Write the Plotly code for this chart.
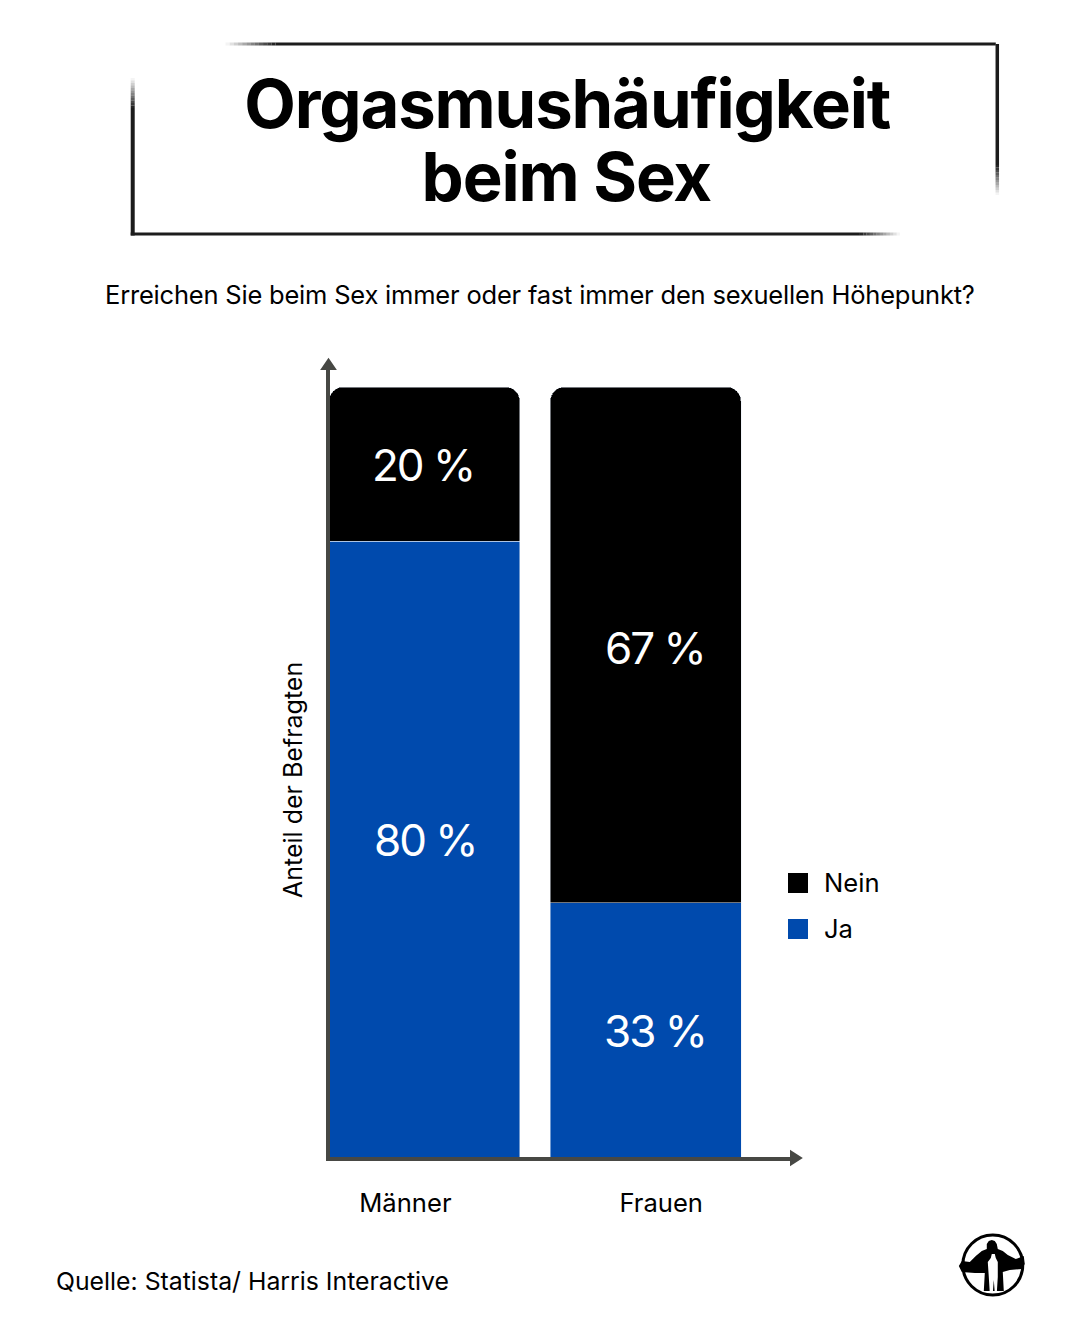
import plotly.graph_objects as go

categories = ['Männer', 'Frauen']
ja_values = [80, 33]
nein_values = [20, 67]
title_lines = ['Orgasmushäufigkeit', 'beim Sex']
subtitle = 'Erreichen Sie beim Sex immer oder fast immer den sexuellen Höhepunkt?'
y_title = 'Anteil der Befragten'
source = 'Quelle: Statista/ Harris Interactive'

BLUE = '#004aad'
BLACK = '#000000'
AXIS = '#474844'
FRAME = '#1c1c1c'
FONT = 'Inter'

W, H = 1080, 1329
L, R, T, B = 329.5, 795, 365, 1157
PITCH = 221.5     # px between the two bars
PX_PER_PCT = 7.7

# plotly has no letter spacing option, the original font runs tighter than Inter
TIGHTEN_TEXT = """
document.body.style.margin = '0';
document.querySelectorAll('.annotation-text').forEach(function (t) {
    var size = parseFloat(t.style.fontSize);
    if (size > 60) t.style.letterSpacing = '-0.017em';
    else if (size > 40) t.style.letterSpacing = '-0.045em';
    else if (size === 25.5) t.style.letterSpacing = '-0.008em';
});
"""


def xp(px):
    return (px - L) / (R - L)


def yp(px):
    return (B - px) / (B - T)


def label(text, x, y, size, color='black', bold=False, angle=0, anchor='center'):
    return dict(text=f'<b>{text}</b>' if bold else text, x=xp(x), y=yp(y), xref='paper', yref='paper',
                showarrow=False, xanchor=anchor, yanchor='middle', textangle=angle,
                font=dict(family=FONT, size=size, color=color))


def line_shape(x0, y0, x1, y1, width, opacity):
    return dict(type='line', xref='paper', yref='paper', x0=xp(x0), y0=yp(y0), x1=xp(x1), y1=yp(y1),
                opacity=opacity, line=dict(color=FRAME, width=width))


def fading_line(x0, y0, x1, y1, fade_px, width=3):
    """Straight line that fades out towards (x1, y1). Plotly shapes have no gradient, so use short pieces."""
    length = max(abs(x1 - x0), abs(y1 - y0))
    dx, dy = (x1 - x0) / length, (y1 - y0) / length
    solid = length - fade_px
    out = [line_shape(x0, y0, x0 + dx * solid, y0 + dy * solid, width, 1)]
    steps = 12
    for i in range(steps):
        a = solid + fade_px * i / steps
        b = solid + fade_px * (i + 1) / steps
        out.append(line_shape(x0 + dx * a, y0 + dy * a, x0 + dx * b, y0 + dy * b, width, 1 - (i + 0.5) / steps))
    return out


def path_shape(points, fill, edge=0):
    path = 'M' + ' L'.join(f'{xp(x):.5f},{yp(y):.5f}' for x, y in points) + ' Z'
    return dict(type='path', xref='paper', yref='paper', path=path, fillcolor=fill,
                line=dict(width=edge, color=fill))


def square(x0, y0, size, color):
    return dict(type='rect', xref='paper', yref='paper', x0=xp(x0), x1=xp(x0 + size), y0=yp(y0), y1=yp(y0 + size),
                fillcolor=color, line=dict(width=0))


x_pos = list(range(len(categories)))

fig = go.Figure()
fig.add_bar(x=x_pos, y=ja_values, name='Ja', marker_color=BLUE, width=191 / PITCH)
fig.add_bar(x=x_pos, y=nein_values, name='Nein', marker_color=BLACK, width=191 / PITCH)

# frame around the title
shapes = []
shapes += fading_line(996, 44, 225, 44, 50)
shapes += fading_line(997.5, 44, 997.5, 195, 30, 3.5)
shapes += fading_line(132, 235.5, 132, 78, 30, 4)
shapes += fading_line(130, 234, 900, 234, 40)

# axis arrow heads
shapes.append(path_shape([(321.5, 369), (328, 359.5), (334.5, 369)], AXIS, edge=2))
shapes.append(path_shape([(791, 1151.5), (801, 1158), (791, 1164.5)], AXIS, edge=2))

# legend
shapes.append(square(788, 873, 20, BLACK))
shapes.append(square(788, 919, 20, BLUE))

# logo
shapes.append(dict(type='circle', xref='paper', yref='paper', x0=xp(963), x1=xp(1023), y0=yp(1235), y1=yp(1295),
                   line=dict(color='black', width=3)))
shapes.append(path_shape([(987, 1244), (989, 1241), (992, 1240), (995, 1241), (997, 1244), (998, 1249), (1003, 1251),
                          (1008, 1255), (1016, 1259), (1024, 1256), (1025, 1264), (1022, 1269), (1010, 1270),
                          (1003, 1272), (1004, 1291), (984, 1291), (985, 1273), (975, 1273), (962, 1272),
                          (959, 1266), (962, 1261), (970, 1262), (976, 1256), (982, 1251), (987, 1249)], 'black'))
shapes.append(path_shape([(992, 1254), (995, 1254), (996, 1258), (998, 1262), (998, 1277), (997, 1293), (995, 1293),
                          (994, 1280), (993, 1293), (990, 1293), (989, 1277), (988, 1262), (991, 1258)], 'white'))

annotations = [
    label(title_lines[0], 566.5, 104, 67, bold=True),
    label(title_lines[1], 566.5, 177, 67, bold=True),
    label(subtitle, 540, 295, 25.5),
    label(y_title, 292.5, 780, 25, angle=-90),
    label('Nein', 822, 882, 25.6, anchor='left'),
    label('Ja', 822, 928, 25.6, anchor='left'),
    label(source, 53, 1281, 24.8, anchor='left'),
]

# value labels, slightly off-centre in the original
ja_shift = [(1, 9), (9, -1)]
nein_shift = [(-1, -1), (9, -3)]
for i in x_pos:
    annotations.append(dict(x=i, y=ja_values[i] / 2, text=f'{ja_values[i]} %', showarrow=False,
                            xshift=ja_shift[i][0], yshift=ja_shift[i][1], font=dict(family=FONT, size=44, color='white')))
    annotations.append(dict(x=i, y=ja_values[i] + nein_values[i] / 2, text=f'{nein_values[i]} %', showarrow=False,
                            xshift=nein_shift[i][0], yshift=nein_shift[i][1], font=dict(family=FONT, size=44, color='white')))

fig.update_layout(
    width=W, height=H, autosize=False,
    margin=dict(l=L, r=W - R, t=T, b=H - B, pad=0),
    paper_bgcolor='white', plot_bgcolor='white',
    barmode='stack', barcornerradius=14,
    showlegend=False,
    shapes=shapes, annotations=annotations,
    font=dict(family=FONT, color='black'),
)
fig.update_xaxes(range=[(L - 424) / PITCH, (R - 424) / PITCH], showgrid=False, zeroline=False,
                 showline=True, linecolor=AXIS, linewidth=3.5,
                 tickmode='array', tickvals=[-0.086, 1.07], ticktext=categories,
                 ticks='', ticklabelstandoff=21, tickfont=dict(family=FONT, size=25.6, color='black'))
fig.update_yaxes(range=[0, (B - T) / PX_PER_PCT], showgrid=False, zeroline=False, showticklabels=False,
                 showline=True, linecolor=AXIS, linewidth=3.5, ticks='')

fig.write_html('out.html', config={'displayModeBar': False}, post_script=TIGHTEN_TEXT)
